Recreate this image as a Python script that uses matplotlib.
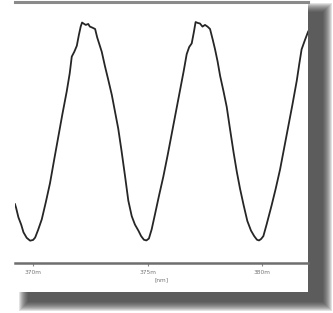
import matplotlib
matplotlib.use("Agg")
import matplotlib.pyplot as plt
from matplotlib.patches import Rectangle

# wavelength [nm] and normalised intensity
wavelength = [369.21, 369.26, 369.36, 369.48, 369.58, 369.72, 369.87, 370.00, 370.09,
              370.22, 370.38, 370.56, 370.74, 370.92, 371.10, 371.28, 371.47, 371.60,
              371.69, 371.80, 371.91, 372.00, 372.08, 372.14, 372.20, 372.30, 372.41,
              372.48, 372.56, 372.71, 372.80, 372.90, 373.00, 373.14, 373.28, 373.44,
              373.58, 373.72, 373.86, 374.02, 374.16, 374.31, 374.45, 374.60, 374.72,
              374.84, 374.95, 375.06, 375.18, 375.33, 375.50, 375.69, 375.88, 376.06,
              376.24, 376.42, 376.58, 376.71, 376.82, 376.93, 377.02, 377.10, 377.20,
              377.29, 377.40, 377.51, 377.62, 377.73, 377.85, 377.95, 378.06, 378.17,
              378.32, 378.46, 378.60, 378.76, 378.90, 379.04, 379.20, 379.36, 379.52,
              379.66, 379.78, 379.87, 379.96, 380.06, 380.20, 380.42, 380.60, 380.79,
              380.97, 381.15, 381.33, 381.52, 381.63, 381.73, 381.88, 382.02, 382.30]
intensity = [0.245, 0.229, 0.190, 0.160, 0.128, 0.105, 0.093, 0.096, 0.106,
             0.138, 0.182, 0.255, 0.333, 0.430, 0.525, 0.620, 0.715, 0.790,
             0.860, 0.880, 0.905, 0.950, 0.985, 1.002, 0.998, 0.992, 0.996,
             0.985, 0.982, 0.975, 0.940, 0.910, 0.880, 0.820, 0.765, 0.700,
             0.630, 0.560, 0.470, 0.360, 0.260, 0.195, 0.160, 0.135, 0.112,
             0.097, 0.094, 0.102, 0.140, 0.205, 0.280, 0.360, 0.450, 0.540,
             0.630, 0.720, 0.800, 0.870, 0.900, 0.915, 0.960, 1.004, 1.000,
             0.998, 0.985, 0.992, 0.985, 0.975, 0.930, 0.890, 0.840, 0.780,
             0.715, 0.650, 0.560, 0.460, 0.380, 0.310, 0.240, 0.175, 0.135,
             0.112, 0.097, 0.094, 0.100, 0.112, 0.160, 0.240, 0.310, 0.390,
             0.480, 0.570, 0.660, 0.760, 0.830, 0.890, 0.930, 0.965, 1.000]
tick_pos = [370, 375, 380]
tick_labels = ["370m", "375m", "380m"]

W, H = 333, 313
fig = plt.figure(figsize=(W / 100, H / 100), dpi=100)
fig.patch.set_facecolor("white")


def px(x0, y0, x1, y1):
    # pixel box (top-left origin) -> figure fraction rect args
    return (x0 / W, 1 - y1 / H), (x1 - x0) / W, (y1 - y0) / H


# blurred drop shadow
for k in range(9, -1, -1):
    xy, w, h = px(28 - k, 12 - k, 323 + k, 302 + k)
    fig.add_artist(Rectangle(xy, w, h, transform=fig.transFigure,
                             facecolor="#333333", edgecolor="none", alpha=0.14, zorder=-3))

# white card
xy, w, h = px(0, 0, 308, 292)
fig.add_artist(Rectangle(xy, w, h, transform=fig.transFigure,
                         facecolor="white", edgecolor="none", zorder=-2))

ax = fig.add_axes([15 / W, 1 - 263 / H, (308 - 15) / W, (263 - 2) / H])
ax.set_facecolor("none")
ax.plot(wavelength, intensity, color="#262626", linewidth=1.3,
        solid_joinstyle="round")
ax.set_xlim(369.21, 382.01)
ax.set_ylim(0, 1.0875)

for side in ["left", "right"]:
    ax.spines[side].set_visible(False)
ax.spines["top"].set_color("#8a8a8a")
ax.spines["top"].set_linewidth(2.2)
ax.spines["bottom"].set_color("#6e6e6e")
ax.spines["bottom"].set_linewidth(1.8)

ax.set_yticks([])
ax.set_xticks(tick_pos)
ax.set_xticklabels(tick_labels)
ax.tick_params(axis="x", length=2.5, width=0.8, color="#888888",
               labelsize=4.2, labelcolor="#777777", pad=2.5)
ax.set_xlabel("[nm]", fontsize=4.2, color="#777777", labelpad=1.5)

fig.savefig("out.png", dpi=100)
